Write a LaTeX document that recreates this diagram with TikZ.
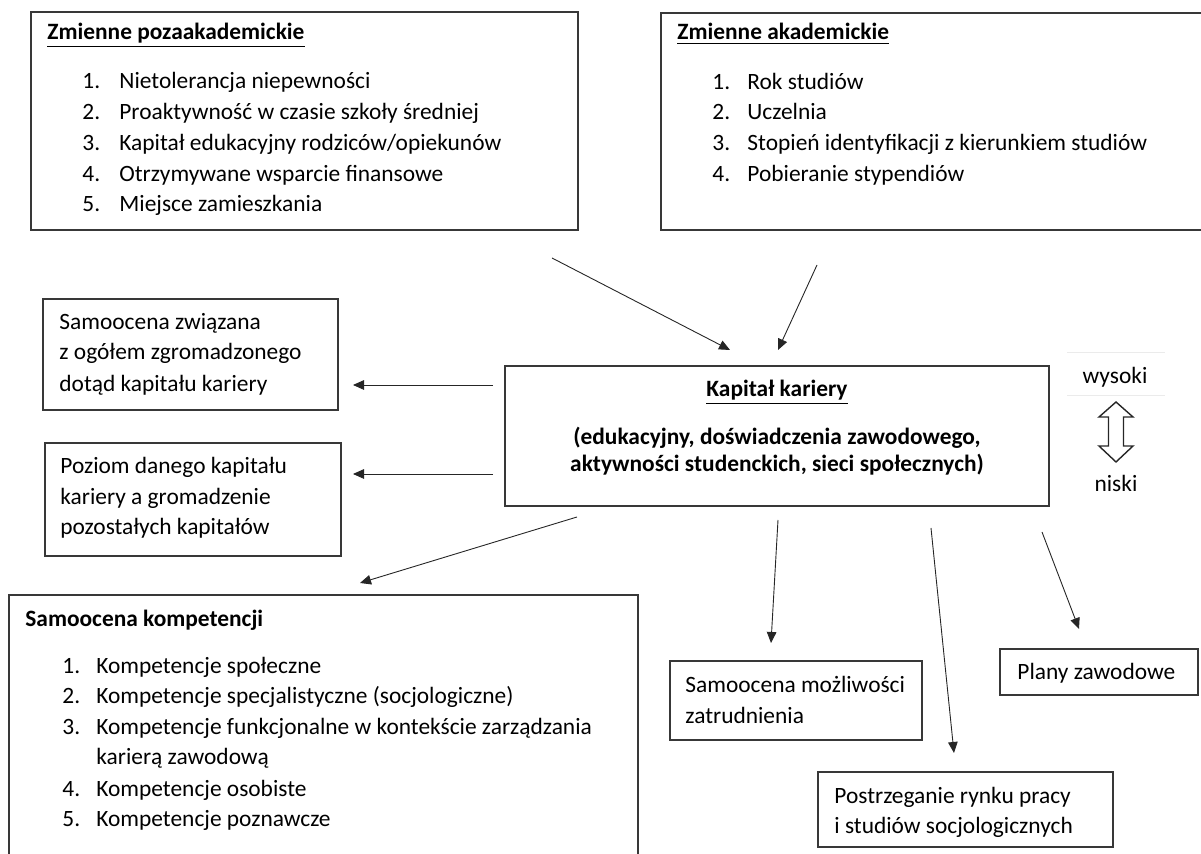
\documentclass[tikz,border=0pt]{standalone}
\usepackage{fontspec}
\setmainfont{Carlito}
\usetikzlibrary{arrows.meta}
\begin{document}
\begin{tikzpicture}[x=0.5pt,y=-0.5pt,
  box/.style 2 args={draw=black!78, line width=0.75pt, inner sep=0pt, minimum width=#1*0.5pt, minimum height=#2*0.5pt},
  txt/.style={anchor=base west, inner sep=0pt, font=\fontsize{11.7}{14}\selectfont},
  btxt/.style={txt, font=\fontsize{11.7}{14}\selectfont\bfseries},
  ctxt/.style={anchor=base, inner sep=0pt, font=\fontsize{11.7}{14}\selectfont},
  cbtxt/.style={ctxt, font=\fontsize{11.7}{14}\selectfont\bfseries},
  arr/.style={-{Triangle[length=5.5pt,width=4.8pt]}, line width=0.45pt, black!85},
  faint/.style={draw=black!8, line width=0.5pt}]
\useasboundingbox (0,0) rectangle (1201,854);

% ---- boxes
\node[box={547}{218}] (boxA) at (304.5,121) {};
\node[box={542}{217}] (boxB) at (932,121.5) {};
\node[box={544}{140}] (kap) at (777,436) {};
\node[box={295}{111}] (lb1) at (190.5,354.5) {};
\node[box={296}{113}] (lb2) at (193,499.5) {};
\node[box={629}{265}] (komp) at (323.5,727.5) {};
\node[box={252}{79}] (mozl) at (796,700.5) {};
\node[box={295}{75}] (postr) at (965.5,809.5) {};
\node[box={198}{46}] (plany) at (1099,672) {};

% ---- box A text
\node[btxt] (tA) at (47,40) {\underline{Zmienne pozaakademickie}};
\node[txt] (nA1) at (82,89) {1.};  \node[txt] (iA1) at (119,89) {Nietolerancja niepewności};
\node[txt] (nA2) at (82,120) {2.}; \node[txt] (iA2) at (119,120) {Proaktywność w czasie szkoły średniej};
\node[txt] (nA3) at (82,151) {3.}; \node[txt] (iA3) at (119,151) {Kapitał edukacyjny rodziców/opiekunów};
\node[txt] (nA4) at (82,182) {4.}; \node[txt] (iA4) at (119,182) {Otrzymywane wsparcie finansowe};
\node[txt] (nA5) at (82,212) {5.}; \node[txt] (iA5) at (119,212) {Miejsce zamieszkania};

% ---- box B text
\node[btxt] (tB) at (677,40) {\underline{Zmienne akademickie}};
\node[txt] (nB1) at (712,90) {1.};  \node[txt] (iB1) at (747,90) {Rok studiów};
\node[txt] (nB2) at (712,120) {2.}; \node[txt] (iB2) at (747,120) {Uczelnia};
\node[txt] (nB3) at (712,151) {3.}; \node[txt] (iB3) at (747,151) {Stopień identyfikacji z kierunkiem studiów};
\node[txt] (nB4) at (712,182) {4.}; \node[txt] (iB4) at (747,182) {Pobieranie stypendiów};

% ---- centre text
\node[cbtxt] (tK) at (777,397) {\underline{Kapitał kariery}};
\node[cbtxt] (tK2) at (777,445) {(edukacyjny, doświadczenia zawodowego,};
\node[cbtxt] (tK3) at (777,472) {aktywności studenckich, sieci społecznych)};

% ---- left boxes text
\node[txt] (l1a) at (59,330) {Samoocena związana};
\node[txt] (l1b) at (59,360) {z ogółem zgromadzonego};
\node[txt] (l1c) at (59,392) {dotąd kapitału kariery};
\node[txt] (l2a) at (60,474) {Poziom danego kapitału};
\node[txt] (l2b) at (60,505) {kariery a gromadzenie};
\node[txt] (l2c) at (60,535) {pozostałych kapitałów};

% ---- kompetencje
\node[btxt] (tC) at (25,627) {Samoocena kompetencji};
\node[txt] (nC1) at (62,674) {1.}; \node[txt] (iC1) at (96,674) {Kompetencje społeczne};
\node[txt] (nC2) at (62,704) {2.}; \node[txt] (iC2) at (96,704) {Kompetencje specjalistyczne (socjologiczne)};
\node[txt] (nC3) at (62,735) {3.}; \node[txt] (iC3) at (96,735) {Kompetencje funkcjonalne w kontekście zarządzania};
\node[txt] (iC3b) at (96,765) {karierą zawodową};
\node[txt] (nC4) at (62,797) {4.}; \node[txt] (iC4) at (96,797) {Kompetencje osobiste};
\node[txt] (nC5) at (62,827) {5.}; \node[txt] (iC5) at (96,827) {Kompetencje poznawcze};

% ---- right-bottom boxes text
\node[txt] (m1) at (685,693) {Samoocena możliwości};
\node[txt] (m2) at (685,724) {zatrudnienia};
\node[txt] (p1) at (834,804) {Postrzeganie rynku pracy};
\node[txt] (p2) at (834,834) {i studiów socjologicznych};
\node[txt] (pl) at (1017,680) {Plany zawodowe};

% ---- scale wysoki / niski
\draw[faint] (1067,353) -- (1165,353);
\draw[faint] (1067,396) -- (1165,396);
\node[ctxt] (wys) at (1115,384) {wysoki};
\node[ctxt] (nis) at (1116,492) {niski};
\draw[line width=0.7pt, black!85, line join=miter]
  (1116,402) -- (1133,417) -- (1123.5,417) -- (1123.5,446) -- (1133,446) -- (1116,462)
  -- (1099,446) -- (1108.5,446) -- (1108.5,417) -- (1099,417) -- cycle;

% ---- arrow end points
\coordinate (a1s) at (552,258);  \coordinate (a1e) at (730,350);
\coordinate (a2s) at (817,265);  \coordinate (a2e) at (778,350);
\coordinate (a3s) at (493,385);  \coordinate (a3e) at (353,385);
\coordinate (a4s) at (493,474);  \coordinate (a4e) at (353,474);
\coordinate (a5s) at (577,517);  \coordinate (a5e) at (360,583);
\coordinate (a6s) at (778,520);  \coordinate (a6e) at (771,643);
\coordinate (a7s) at (931,528);  \coordinate (a7e) at (954,753);
\coordinate (a8s) at (1042,532); \coordinate (a8e) at (1079,629);

\draw[arr] (a1s) -- (a1e);
\draw[arr] (a2s) -- (a2e);
\draw[arr] (a3s) -- (a3e);
\draw[arr] (a4s) -- (a4e);
\draw[arr] (a5s) -- (a5e);
\draw[arr] (a6s) -- (a6e);
\draw[arr] (a7s) -- (a7e);
\draw[arr] (a8s) -- (a8e);
\end{tikzpicture}
\end{document}
